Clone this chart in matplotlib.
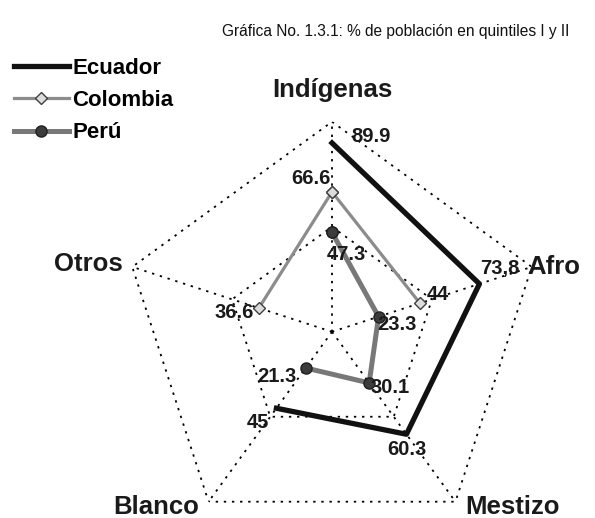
import numpy as np
import matplotlib
matplotlib.use("Agg")
import matplotlib.pyplot as plt

# =============================
#           DATOS
# =============================

categorias = ["Indígenas", "Afro", "Mestizo", "Blanco", "Otros"]

ecuador = [89.9, 73.8, 60.3, 45.0, np.nan]
colombia = [66.6, 44.0, np.nan, np.nan, 36.6]
peru = [47.3, 23.3, 30.1, 21.3, np.nan]

etiq_ecuador = ["89.9", "73,8", "60.3", "45", ""]
etiq_colombia = ["66.6", "44", "", "", "36.6"]
etiq_peru = ["47.3", "23.3", "30.1", "21.3", ""]

titulo = "Gráfica No. 1.3.1: % de población en quintiles I y II"

# =============================
#          FIGURA
# =============================

plt.rcParams['font.family'] = ['Liberation Sans', 'DejaVu Sans']

fig = plt.figure(figsize=(5.95, 5.18), dpi=100)
ax = fig.add_axes([0.205, -0.046, 0.706, 0.811], projection='polar')
ax.set_theta_offset(np.pi / 2)
ax.set_theta_direction(-1)
ax.set_ylim(0, 100)
ax.set_xticks([])
ax.set_yticks([])
ax.grid(False)
ax.spines['polar'].set_visible(False)
ax.patch.set_visible(False)

n = len(categorias)
theta = np.arange(n) * 2 * np.pi / n
theta_c = np.append(theta, theta[0])

# rejilla punteada (pentágonos y radios)
punteado = (0, (1.3, 3.2))
for nivel in [50, 100]:
    ax.plot(theta_c, [nivel] * (n + 1), color='black', lw=1.3, linestyle=punteado)
for t in theta:
    ax.plot([t, t], [0, 100], color='black', lw=1.3, linestyle=punteado)

def cerrar(v):
    return np.append(v, v[0])

ax.plot(theta_c, cerrar(peru), color='#787878', lw=3.6, marker='o', ms=8,
        mfc='#3c3c3c', mec='#202020', label='Perú', zorder=3)
ax.plot(theta_c, cerrar(colombia), color='#8c8c8c', lw=2.3, marker='D', ms=6.5,
        mfc='#dcdcdc', mec='#404040', label='Colombia', zorder=4)
ax.plot(theta_c, cerrar(ecuador), color='#111111', lw=3.8, label='Ecuador', zorder=5)

# etiquetas de datos (desplazamientos en puntos)
desp_ecuador = [(28, 5), (15, 11), (0, -11), (-13, -10), (0, 0)]
desp_colombia = [(-15, 10), (13, 6), (0, 0), (0, 0), (-18, -3)]
desp_peru = [(10, -16), (13, -6), (15, -3), (-21, -6), (0, 0)]

for vals, etiqs, desps in [(ecuador, etiq_ecuador, desp_ecuador),
                           (colombia, etiq_colombia, desp_colombia),
                           (peru, etiq_peru, desp_peru)]:
    for t, v, e, d in zip(theta, vals, etiqs, desps):
        if np.isnan(v):
            continue
        ax.annotate(e, (t, v), xytext=d, textcoords='offset points',
                    ha='center', va='center', fontsize=14.5, fontweight='bold',
                    color='#1a1a1a', zorder=6)

# nombres de los ejes
pos_ejes = [((0, 23), 'center', 'center'),
            ((-3, 0), 'left', 'center'),
            ((7, -4), 'left', 'center'),
            ((-7, -4), 'right', 'center'),
            ((-7, 2), 'right', 'center')]
for t, c, (d, ha, va) in zip(theta, categorias, pos_ejes):
    ax.annotate(c, (t, 100), xytext=d, textcoords='offset points',
                ha=ha, va=va, fontsize=18.5, fontweight='bold', color='#1a1a1a',
                annotation_clip=False)

fig.text(0.665, 0.94, titulo, ha='center', va='center', fontsize=11.2,
         family=['Liberation Sans Narrow', 'Liberation Sans', 'DejaVu Sans'],
         color='#111111')

h, l = ax.get_legend_handles_labels()
orden = [2, 1, 0]
fig.legend([h[i] for i in orden], [l[i] for i in orden], loc='upper left',
           bbox_to_anchor=(0.008, 0.905), frameon=False,
           prop={'size': 16, 'weight': 'bold'},
           handlelength=2.5, handletextpad=0.15, labelspacing=0.5,
           borderaxespad=0)

fig.savefig("out.png", dpi=100)
